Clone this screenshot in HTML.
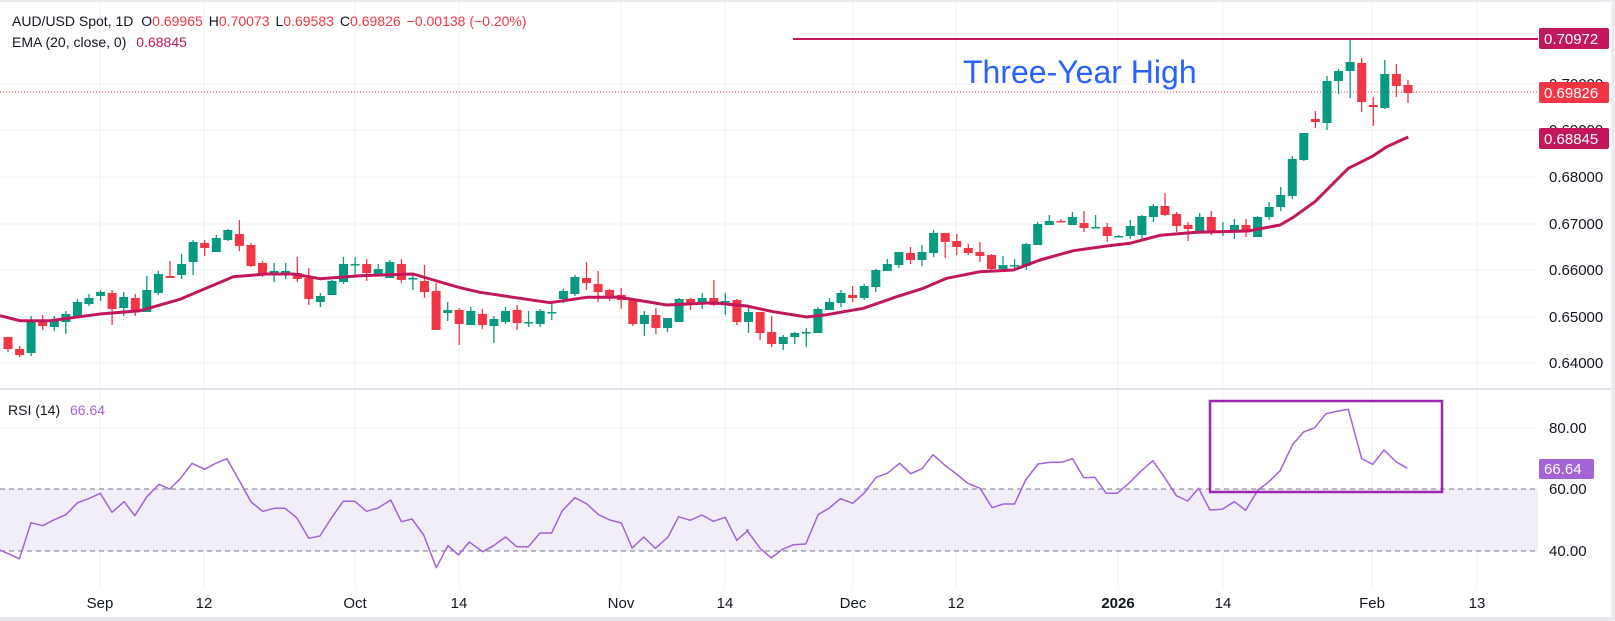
<!DOCTYPE html>
<html><head><meta charset="utf-8"><style>
html,body{margin:0;padding:0;background:#fff;}
svg{display:block;font-family:"Liberation Sans",sans-serif;}
</style></head><body>
<svg id="c" width="1615" height="621" viewBox="0 0 1615 621" xmlns="http://www.w3.org/2000/svg">
<rect x="0" y="0" width="1615" height="621" fill="#fff"/>
<g id="grid" stroke="#f0f1f4" stroke-width="1"></g>
<rect x="0" y="489" width="1538" height="62" fill="#f1edf9"/>
<line x1="0" y1="489" x2="1538" y2="489" stroke="#787b86" stroke-dasharray="5,4"/>
<line x1="0" y1="551" x2="1538" y2="551" stroke="#787b86" stroke-dasharray="5,4"/>
<line x1="0" y1="389" x2="1615" y2="389" stroke="#e0e3eb" stroke-width="2"/>
<line x1="0" y1="1" x2="1615" y2="1" stroke="#e8eaf0" stroke-width="2"/>
<line x1="1613" y1="0" x2="1613" y2="621" stroke="#e8eaf0" stroke-width="3"/>
<line x1="0" y1="619" x2="1615" y2="619" stroke="#e8eaf0" stroke-width="4"/>
<line x1="0" y1="92" x2="1538" y2="92" stroke="#f23645" stroke-dasharray="1,2"/>
<line x1="793" y1="39" x2="1538" y2="39" stroke="#c2185b" stroke-width="2"/>
<g id="candles"></g>
<polyline id="ema" fill="none" stroke="#c2185b" stroke-width="3" stroke-linejoin="round"/>
<polyline id="rsi" fill="none" stroke="#a463d6" stroke-width="1.5" stroke-linejoin="round"/>
<rect x="1210" y="401" width="232" height="91" fill="none" stroke="#9c27b0" stroke-width="2.5"/>
<text x="963" y="83" font-size="32" fill="#2962ff">Three-Year High</text>
<g font-size="14" fill="#131722">
<text x="12" y="26">AUD/USD Spot, 1D <tspan dx="4">O</tspan><tspan fill="#f23645">0.69965</tspan><tspan dx="6">H</tspan><tspan fill="#f23645">0.70073</tspan><tspan dx="6">L</tspan><tspan fill="#f23645">0.69583</tspan><tspan dx="6">C</tspan><tspan fill="#f23645">0.69826</tspan><tspan dx="6" fill="#f23645">−0.00138 (−0.20%)</tspan></text>
<text x="12" y="47">EMA (20, close, 0) <tspan dx="6" fill="#c2185b">0.68845</tspan></text>
<text x="8" y="415">RSI (14) <tspan dx="6" fill="#a463d6">66.64</tspan></text>
</g>
<g font-size="15" fill="#131722">
<text x="1549" y="182">0.68000</text>
<text x="1549" y="229">0.67000</text>
<text x="1549" y="275">0.66000</text>
<text x="1549" y="322">0.65000</text>
<text x="1549" y="368">0.64000</text>
<text x="1549" y="89">0.70000</text>
<text x="1549" y="135">0.69000</text>
<text x="1549" y="433">80.00</text>
<text x="1549" y="494">60.00</text>
<text x="1549" y="556">40.00</text>
</g>
<rect x="1539" y="28" width="70" height="21" rx="2" fill="#c2185b"/>
<rect x="1539" y="82" width="70" height="21" rx="2" fill="#f23645"/>
<rect x="1539" y="128" width="70" height="21" rx="2" fill="#c2185b"/>
<rect x="1539" y="459" width="55" height="20" rx="2" fill="#a463d6"/>
<g font-size="15" fill="#fff">
<text x="1544" y="44">0.70972</text>
<text x="1544" y="98">0.69826</text>
<text x="1544" y="144">0.68845</text>
<text x="1544" y="474">66.64</text>
</g>
<g font-size="15" fill="#131722" text-anchor="middle">
<text x="100" y="608">Sep</text><text x="204" y="608">12</text>
<text x="355" y="608">Oct</text><text x="459" y="608">14</text>
<text x="621" y="608">Nov</text><text x="725" y="608">14</text>
<text x="853" y="608">Dec</text><text x="956" y="608">12</text>
<text x="1118" y="608" font-weight="bold">2026</text><text x="1223" y="608">14</text>
<text x="1372" y="608">Feb</text><text x="1477" y="608">13</text>
</g>
</svg>
<script>
var NS="http://www.w3.org/2000/svg";
function el(t,a,p){var e=document.createElementNS(NS,t);for(var k in a)e.setAttribute(k,a[k]);p.appendChild(e);return e;}
var g=document.getElementById("grid");
[100,204,355,459,621,725,853,956,1118,1223,1372,1477].forEach(function(x){el("line",{x1:x,y1:0,x2:x,y2:588},g);});
[84,130,177,224,270,317,363,428].forEach(function(y){el("line",{x1:0,y1:y,x2:1538,y2:y},g);});
// [o,c,h,l] in pixel y
var B=[[337,349,337,352],[349,355,346,357],[353,322,316,356],[320,326,315,330],[327,320,316,331],[322,314,311,334],[316,302,299,316],[304,298,294,306],[296,292,290,301],[293,309,290,325],[308,297,292,316],[298,310,294,316],[312,290,276,312],[293,274,271,295],[276,278,261,278],[275,264,254,279],[262,242,240,275],[243,248,240,256],[252,238,235,252],[240,230,229,241],[234,246,220,251],[245,266,243,267],[263,275,261,277],[271,271,263,282],[271,271,263,279],[273,279,257,282],[278,299,268,305],[302,296,293,307],[295,281,280,295],[282,264,257,284],[264,264,257,275],[264,273,259,281],[274,269,264,275],[278,262,260,278],[264,280,259,283],[278,278,273,290],[281,292,265,298],[291,330,283,330],[313,310,302,321],[310,324,308,345],[325,311,307,325],[314,325,309,329],[326,319,316,343],
[322,311,307,324],[310,323,305,330],[322,322,311,327],[324,311,309,327],[312,312,303,320],[299,291,289,303],[294,277,275,296],[278,283,262,290],[284,292,271,302],[290,297,289,301],[295,300,288,309],[299,324,299,326],[324,315,311,336],[315,328,308,334],[328,318,318,332],[322,299,298,322],[299,305,298,310],[304,298,293,309],[298,305,280,306],[301,301,293,315],[300,322,299,325],[322,312,308,333],[312,333,312,340],[332,344,316,347],[344,337,335,350],[337,333,332,344],[332,332,328,347],[333,309,307,333],[310,302,298,310],[303,293,290,307],[295,298,286,302],[298,286,284,300],[287,270,269,292],[271,264,259,271],[265,252,252,268],[253,260,247,264],[260,252,245,266],[253,233,230,257],[233,242,233,258],[241,247,234,255],[248,253,244,255],[252,256,242,262],[255,269,254,270],
[269,265,256,270],[265,265,259,270],[266,244,243,270],[245,224,222,245],[225,221,215,225],[221,222,219,222],[225,217,212,225],[223,228,211,232],[227,227,215,228],[227,236,223,242],[236,236,235,237],[236,226,220,239],[235,216,215,241],[217,206,204,222],[206,215,193,216],[214,226,212,232],[225,229,222,241],[233,217,213,233],[217,232,211,235],[231,231,222,236],[232,225,219,239],[225,232,219,237],[237,217,216,237],[217,207,202,220],[207,195,187,211],[196,159,156,199],[160,133,133,161],[119,122,111,128],[123,81,76,130],[81,71,69,94],[71,62,40,98],[63,102,58,112],[105,107,97,126],[108,74,60,109],[74,86,64,97],[85,93,80,103]];
var cg=document.getElementById("candles");
B.forEach(function(b,i){var x=8+i*11.57;var up=b[1]<b[0]||(b[1]==b[0]);var col=up?"#089981":"#f23645";
 if(i==14||i==21||i==22||i==26||i==36||i==61||i==91)col=(b[1]>=b[0])?"#f23645":col;
 el("line",{x1:x.toFixed(1),y1:b[2],x2:x.toFixed(1),y2:b[3],stroke:col,"stroke-width":1.3},cg);
 var t=Math.min(b[0],b[1]),h=Math.max(Math.abs(b[1]-b[0]),1.5);
 el("rect",{x:(x-4.5).toFixed(1),y:t,width:9,height:h,fill:col},cg);});
var E=[];function add(a,ox,oy,sx){a.forEach(function(p){E.push([ox+p[0]/sx,oy+p[1]/3]);});}
add([[0,347],[60,362],[150,362],[300,342],[420,332],[540,298],[700,230],[800,222],[880,222],[960,236],[1080,227],[1240,222],[1300,240],[1380,263]],0,200,3);
add([[0,337],[100,352],[210,368],[320,352],[420,352],[560,375],[700,368],[800,378],[880,395],[980,411],[1040,404],[1150,385],[1250,350],[1330,325],[1400,295],[1500,275]],480,180,3);
add([[100,330],[180,300],[280,272],[380,258],[450,250],[540,226],[650,217],[800,213]],980,160,3);
add([[0,692],[90,675],[130,652],[195,605],[230,570],[295,505],[365,470],[410,440],[475,411]],1250,0,3);
E.sort(function(a,b){return a[0]-b[0];});
document.getElementById("ema").setAttribute("points",E.map(function(p){return p[0].toFixed(1)+","+p[1].toFixed(1);}).join(" "));
var R=[];
[[0,510],[40,536],[64,428],[88,437],[112,419],[136,404],[160,368],[183,356],[207,340],[231,397],[256,365],[278,407],[303,350],[328,313],[350,327],[372,296],[396,250],[422,268],[445,250],[468,236],[494,303],[518,366],[542,394],[566,385],[588,385],[612,413],[637,475],[660,468],[684,413],[708,364],[732,364],[756,394],[780,384],[806,360],[828,425],[850,417],[874,465],[900,563],[924,497],[946,525],[968,486],[996,515],[1018,497],[1043,471],[1066,500],[1090,500],[1114,459],[1138,459],[1160,392],[1186,353],[1210,371],[1235,404],[1258,420],[1282,429],[1304,504],[1328,471],[1352,505],[1378,471],[1400,410],[1424,421],[1448,405],[1472,424],[1496,412],[1520,481],[1544,450]].forEach(function(p){R.push([p[0]/2.063,380+p[1]/3]);});
[[12,450],[36,505],[56,534],[76,508],[96,494],[118,492],[140,404],[160,384],[180,356],[202,370],[222,340],[244,292],[264,280],[286,250],[306,281],[326,266],[346,224],[368,257],[388,282],[408,310],[430,325],[452,383],[472,372],[492,372],[512,300],[534,252],[556,247],[576,247],[596,236],[616,293],[636,292],[656,340],[676,340],[698,308],[718,274],[740,242],[760,290],[782,347],[802,363],[822,325],[842,390],[864,388],[886,365],[906,391],[928,330],[948,305],[968,272],[990,194],[1010,156],[1030,143],[1050,101],[1070,94],[1090,88],[1114,236],[1134,253],[1154,210],[1176,246],[1196,265]].forEach(function(p){R.push([740+p[0]/1.792,380+p[1]/3]);});
document.getElementById("rsi").setAttribute("points",R.map(function(p){return p[0].toFixed(1)+","+p[1].toFixed(1);}).join(" "));
</script>
</body></html>
